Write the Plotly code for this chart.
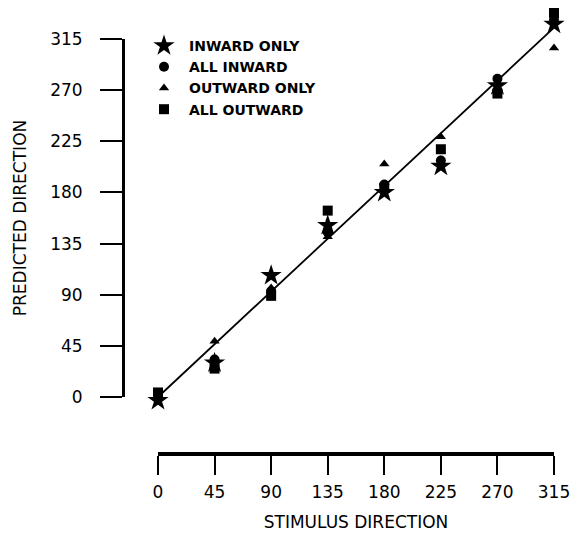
import plotly.graph_objects as go

# ---- data ----
stimulus = [0, 45, 90, 135, 180, 225, 270, 315]
inward_only = [-3, 30, 107, 151, 180, 203, 274, 328]
all_inward = [1, 33, 93, 145, 187, 208, 280, 332]
outward_only = [0, 49, 96, 141, 205, 229, 272, 307]
all_outward = [4, 25, 89, 164, 184, 218, 267, 338]
fit_x = [0, 315]
fit_y = [0, 325]
tick_vals = [0, 45, 90, 135, 180, 225, 270, 315]
tick_text = ["0", "45", "90", "135", "180", "225", "270", "315"]

# ---- geometry (page pixels; the page body adds an 8px offset) ----
OFF = 8
W, H = 581 - OFF, 535 - OFF
X0, X1 = 158 - OFF, 554 - OFF      # x=0 and x=315
Y0, Y1 = 397 - OFF, 39 - OFF       # y=0 and y=315
XAX_Y = 454 - OFF                  # x axis line row
YAX_X = 123 - OFF                  # y axis line column
sx = (X1 - X0) / 315.0
sy = (Y0 - Y1) / 315.0

x_range = [(0 - X0) / sx, (W - X0) / sx]
y_range = [(Y0 - H) / sy, (Y0 - 0) / sy]

FONT = "DejaVu Sans"

fig = go.Figure()

fig.add_trace(go.Scatter(x=fit_x, y=fit_y, mode="lines",
                         line=dict(color="black", width=1.8),
                         showlegend=False, hoverinfo="skip"))

series = [
    ("INWARD ONLY", inward_only, "star", 16),
    ("ALL INWARD", all_inward, "circle", 10),
    ("OUTWARD ONLY", outward_only, "triangle-up", 9),
    ("ALL OUTWARD", all_outward, "square", 10),
]
for name, vals, sym, size in series:
    fig.add_trace(go.Scatter(x=stimulus, y=vals, mode="markers", name=name,
                             marker=dict(symbol=sym, size=size, color="black",
                                         line=dict(width=0)),
                             cliponaxis=False))

# dummy trace to carry the visible axes
fig.add_trace(go.Scatter(x=[0], y=[0], xaxis="x2", yaxis="y2", mode="markers",
                         marker=dict(opacity=0), showlegend=False,
                         hoverinfo="skip"))

fig.update_layout(
    template="none",
    width=W, height=H,
    margin=dict(l=0, r=0, t=0, b=0, pad=0, autoexpand=False),
    paper_bgcolor="white", plot_bgcolor="rgba(0,0,0,0)",
    font=dict(family=FONT, color="black", size=17),
    xaxis=dict(domain=[0, 1], range=x_range, visible=False, fixedrange=True,
               automargin=False),
    yaxis=dict(domain=[0, 1], range=y_range, visible=False, fixedrange=True,
               automargin=False),
    xaxis2=dict(domain=[X0 / W, X1 / W], range=[0, 315], anchor="free",
                position=(H - XAX_Y) / H, showline=True, linewidth=3.5,
                linecolor="black", ticks="outside", ticklen=19, tickwidth=2,
                tickcolor="black", tickvals=tick_vals, ticktext=tick_text,
                showgrid=False, zeroline=False, ticklabelstandoff=3,
                tickfont=dict(size=17), automargin=False,
                title=dict(text="STIMULUS DIRECTION", font=dict(size=17),
                           standoff=14)),
    yaxis2=dict(domain=[(H - Y0) / H, (H - Y1) / H], range=[0, 315],
                anchor="free", position=YAX_X / W, side="left",
                showline=True, linewidth=3, linecolor="black",
                ticks="outside", ticklen=22, tickwidth=2, tickcolor="black",
                tickvals=tick_vals, ticktext=tick_text, showgrid=False,
                zeroline=False, ticklabelstandoff=14, tickfont=dict(size=17),
                automargin=False,
                title=dict(text="PREDICTED DIRECTION", font=dict(size=17),
                           standoff=18)),
    legend=dict(x=131 / W, y=1 - 22 / H, xanchor="left", yanchor="top",
                bgcolor="rgba(0,0,0,0)", borderwidth=0, itemwidth=40,
                font=dict(family=FONT, size=14, weight="bold")),
)

fig.write_html("out.html")
